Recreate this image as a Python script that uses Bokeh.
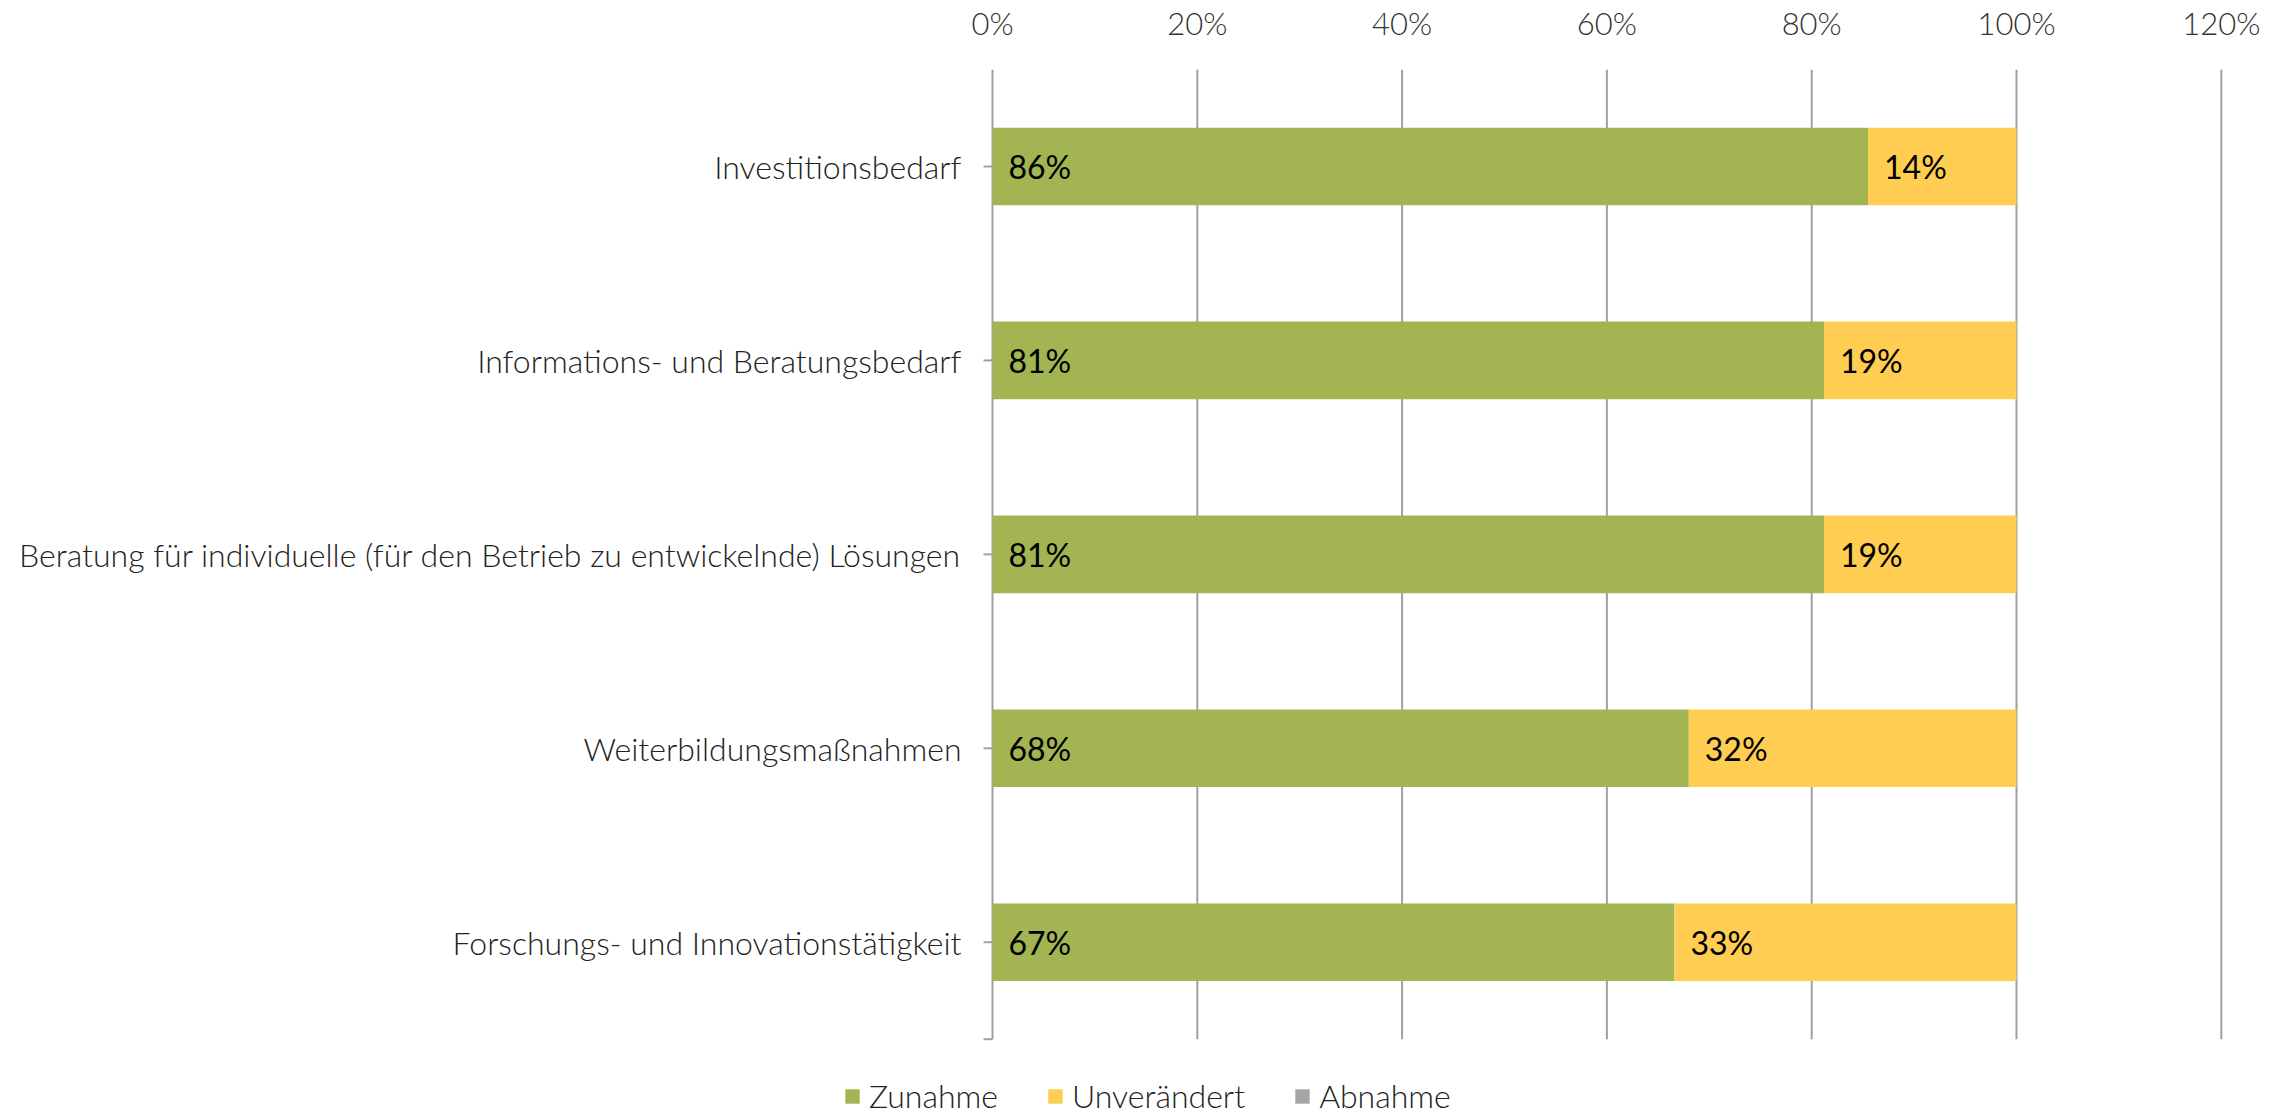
from bokeh.plotting import figure
from bokeh.models import (ColumnDataSource, FixedTicker, NumeralTickFormatter, LabelSet,
                          Legend, LegendItem, Label, Range1d)
from bokeh.core.properties import value
from bokeh.embed import file_html
from bokeh.resources import INLINE

categories = ["Investitionsbedarf",
              "Informations- und Beratungsbedarf",
              "Beratung für individuelle (für den Betrieb zu entwickelnde) Lösungen",
              "Weiterbildungsmaßnahmen",
              "Forschungs- und Innovationstätigkeit"]
zunahme = [85.5, 81.2, 81.2, 68.0, 66.6]
unveraendert = [14.5, 18.8, 18.8, 32.0, 33.4]
abnahme = [0, 0, 0, 0, 0]
zunahme_labels = ["86%", "81%", "81%", "68%", "67%"]
unveraendert_labels = ["14%", "19%", "19%", "32%", "33%"]
x_ticks = [0, 0.2, 0.4, 0.6, 0.8, 1.0, 1.2]
series_names = ["Zunahme", "Unverändert", "Abnahme"]
colors = ["#A2B552", "#FECD52", "#A5A5A5"]
note = "n = 68"

LIGHT = "Lato Light, Lato"
GRID = "#A0A0A0"
W, H = 2287, 1111
TOP = 66            # frame top (below the % labels)
X0_PX = 992         # pixel of 0 %
PX_PER_UNIT = 1024  # pixels for 100 %
BAND_PX = 194.5     # pixels per category

n = len(categories)
ypos = [n - 1 - i for i in range(n)]

x_start = -X0_PX / PX_PER_UNIT
x_end = (W - X0_PX) / PX_PER_UNIT
y_end = n - 0.5
y_start = y_end - (H - TOP) / BAND_PX

src = ColumnDataSource(dict(
    y=ypos,
    Zunahme=[v / 100 for v in zunahme],
    Unverändert=[v / 100 for v in unveraendert],
    Abnahme=[v / 100 for v in abnahme],
    zl=zunahme_labels,
    ul=unveraendert_labels,
    cat=categories,
    zero=[0.0] * n,
))

p = figure(width=W, height=H, output_backend="svg", toolbar_location=None,
           x_range=Range1d(x_start, x_end), y_range=Range1d(y_start, y_end),
           x_axis_location="above",
           min_border_left=0, min_border_right=0, min_border_top=TOP, min_border_bottom=0)
p.outline_line_color = None
p.background_fill_color = "white"
p.xgrid.grid_line_color = None
p.ygrid.grid_line_color = None
p.yaxis.visible = False

# vertical gridlines (incl. the category axis line at 0 %)
p.segment(x0=x_ticks, x1=x_ticks, y0=[-0.5] * len(x_ticks), y1=[n - 0.5] * len(x_ticks),
          line_color=GRID, line_width=2)
# category tick marks (outside, to the left)
tick_y = ypos + [-0.5]
tick_len = 9 / PX_PER_UNIT
p.segment(x0=[0.0] * len(tick_y), x1=[-tick_len] * len(tick_y), y0=tick_y, y1=tick_y,
          line_color=GRID, line_width=2)

renderers = p.hbar_stack(series_names, y="y", height=0.4, color=colors,
                         line_color=None, source=src)

# category labels
p.add_layout(LabelSet(x="zero", y="y", text="cat", source=src, x_offset=-31,
                      text_font=value(LIGHT), text_font_size="32px",
                      text_baseline="middle", text_align="right", text_color="#222222"))
# data labels
p.add_layout(LabelSet(x="zero", y="y", text="zl", source=src, x_offset=16,
                      text_font=value("Lato"), text_font_size="32px",
                      text_baseline="middle", text_align="left", text_color="#000000"))
p.add_layout(LabelSet(x="Zunahme", y="y", text="ul", source=src, x_offset=16,
                      text_font=value("Lato"), text_font_size="32px",
                      text_baseline="middle", text_align="left", text_color="#000000"))

# x axis (top)
xa = p.xaxis[0]
xa.ticker = FixedTicker(ticks=x_ticks)
xa.formatter = NumeralTickFormatter(format="0%")
xa.axis_line_color = None
xa.major_tick_line_color = None
xa.minor_tick_line_color = None
xa.major_label_text_font = LIGHT
xa.major_label_text_font_size = "31px"
xa.major_label_text_color = "#333333"
xa.major_label_standoff = 22

legend = Legend(items=[LegendItem(label=nm, renderers=[r]) for nm, r in zip(series_names, renderers)],
                location=(843, -4), orientation="horizontal",
                glyph_width=18, glyph_height=18, label_standoff=8, spacing=48,
                padding=0, margin=0, border_line_color=None, background_fill_alpha=0,
                label_text_font=LIGHT, label_text_font_size="32px", label_text_color="#222222")
p.add_layout(legend)

p.add_layout(Label(x=12, y=8, x_units="screen", y_units="screen", text=note,
                   text_font=LIGHT, text_font_size="32px", text_color="#808080",
                   text_baseline="top", text_align="left"))

open("out.html", "w").write(file_html(p, INLINE))
